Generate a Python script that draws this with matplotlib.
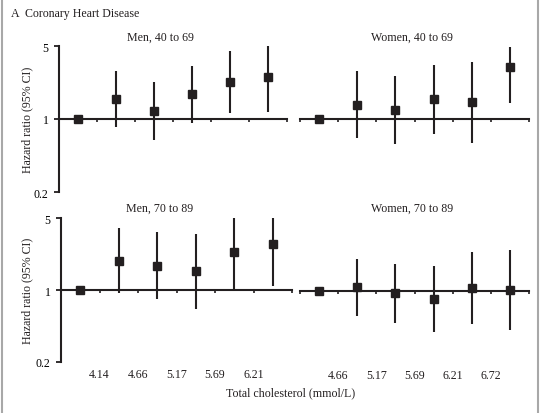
import numpy as np
import matplotlib.pyplot as plt

# hazard ratios and 95% CI, six cholesterol groups per panel
men_40_hr = [1.0, 1.55, 1.20, 1.72, 2.24, 2.52]
men_40_lo = [1.0, 0.83, 0.63, 0.91, 1.13, 1.16]
men_40_hi = [1.0, 2.86, 2.26, 3.24, 4.45, 5.10]

women_40_hr = [1.0, 1.36, 1.21, 1.55, 1.45, 3.17]
women_40_lo = [1.0, 0.66, 0.57, 0.72, 0.59, 1.43]
women_40_hi = [1.0, 2.86, 2.56, 3.29, 3.54, 4.85]

men_70_hr = [1.0, 1.93, 1.72, 1.52, 2.32, 2.78]
men_70_lo = [1.0, 0.93, 0.82, 0.65, 1.00, 1.09]
men_70_hi = [1.0, 3.97, 3.63, 3.52, 5.30, 5.30]

women_70_hr = [1.0, 1.09, 0.95, 0.84, 1.06, 1.02]
women_70_lo = [1.0, 0.57, 0.49, 0.40, 0.48, 0.42]
women_70_hi = [1.0, 2.03, 1.83, 1.76, 2.37, 2.50]

left_cuts = ['4.14', '4.66', '5.17', '5.69', '6.21']
right_cuts = ['4.66', '5.17', '5.69', '6.21', '6.72']

ink = '#231f20'
fs = 8.6
plt.rcParams['font.family'] = ['Liberation Serif', 'DejaVu Serif']

W, H = 540.0, 414.0
fig = plt.figure(figsize=(5.4, 4.14), dpi=100)


def px_axes(x0, y0, x1, y1):
    # pixel box (top-left origin) -> figure axes
    return fig.add_axes([x0 / W, 1 - y1 / H, (x1 - x0) / W, (y1 - y0) / H])


def panel(ax, hr, lo, hi, show_y, cuts=None):
    hr = np.array(hr)
    x = np.arange(len(hr))
    yerr = [hr - np.array(lo), np.array(hi) - hr]
    ax.errorbar(x, hr, yerr=yerr, fmt='s', color=ink, ms=6.3, elinewidth=1.5,
                capsize=0, mec=ink, mfc=ink)
    ax.set_yscale('log')
    ax.set_ylim(0.2, 5)
    ax.set_xlim(-0.5, 5.5)
    ax.set_xticks(np.arange(-0.5, 6.0, 1.0))
    ax.set_xticklabels([])
    ax.tick_params(axis='x', direction='out', length=2.5, width=1.2, color=ink)
    ax.spines['top'].set_visible(False)
    ax.spines['right'].set_visible(False)
    ax.spines['bottom'].set_position(('data', 1))
    ax.spines['bottom'].set_linewidth(1.5)
    ax.spines['bottom'].set_color(ink)
    ax.minorticks_off()
    if show_y:
        ax.spines['left'].set_linewidth(1.5)
        ax.spines['left'].set_color(ink)
        ax.set_yticks([0.2, 1, 5])
        ax.set_yticklabels(['0.2', '1', '5'], fontsize=fs)
        ax.tick_params(axis='y', direction='out', length=3.5, width=1.3,
                       color=ink, pad=4)
    else:
        ax.spines['left'].set_visible(False)
        ax.set_yticks([])
    ax.patch.set_visible(False)
    if cuts:
        for i, c in enumerate(cuts):
            ax.text(i + 0.5, -12 / 144, c, transform=ax.get_xaxis_transform(),
                    ha='center', va='center', fontsize=fs, color=ink)


ax1 = px_axes(59, 47, 287, 193)
ax2 = px_axes(300, 47, 529, 193)
ax3 = px_axes(61, 219, 292, 363)
ax4 = px_axes(300, 220, 529, 364)

panel(ax1, men_40_hr, men_40_lo, men_40_hi, True)
panel(ax2, women_40_hr, women_40_lo, women_40_hi, False)
panel(ax3, men_70_hr, men_70_lo, men_70_hi, True, left_cuts)
panel(ax4, women_70_hr, women_70_lo, women_70_hi, False, right_cuts)

fig.text(11 / W, 1 - 14 / H, 'A  Coronary Heart Disease', fontsize=fs,
         va='center', ha='left', color=ink)
fig.text(160 / W, 1 - 38 / H, 'Men, 40 to 69', fontsize=fs, ha='center', va='center', color=ink)
fig.text(412 / W, 1 - 38 / H, 'Women, 40 to 69', fontsize=fs, ha='center', va='center', color=ink)
fig.text(160 / W, 1 - 209 / H, 'Men, 70 to 89', fontsize=fs, ha='center', va='center', color=ink)
fig.text(412 / W, 1 - 209 / H, 'Women, 70 to 89', fontsize=fs, ha='center', va='center', color=ink)
fig.text(27 / W, 1 - 120 / H, 'Hazard ratio (95% CI)', fontsize=fs, rotation=90,
         ha='center', va='center', color=ink)
fig.text(27 / W, 1 - 291 / H, 'Hazard ratio (95% CI)', fontsize=fs, rotation=90,
         ha='center', va='center', color=ink)
fig.text(291 / W, 1 - 393 / H, 'Total cholesterol (mmol/L)', fontsize=fs,
         ha='center', va='center', color=ink)

# thin grey frame lines at the left and right edges
for xe in (1.5, 537.5):
    fig.add_artist(plt.Line2D([xe / W, xe / W], [0, 1], color='#a8a8a8', lw=1.5))

fig.savefig('out.png', dpi=100)
